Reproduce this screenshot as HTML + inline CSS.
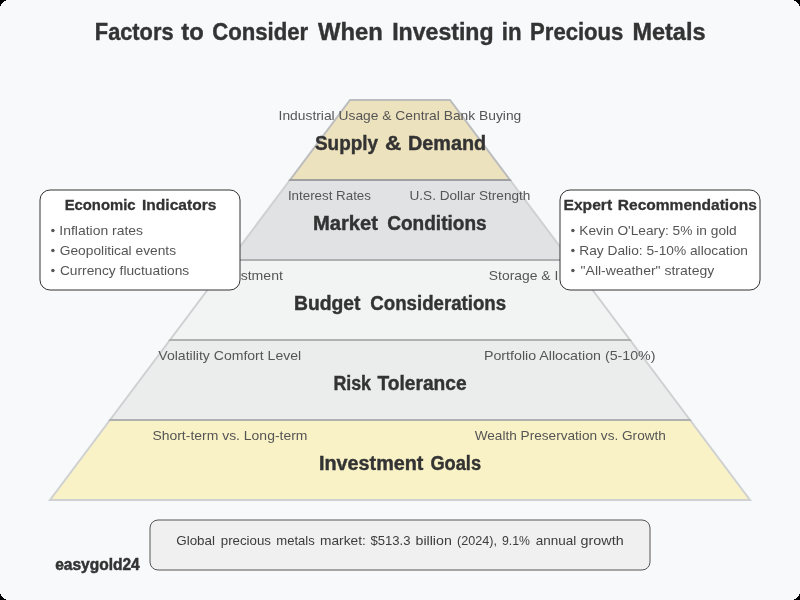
<!DOCTYPE html>
<html><head><meta charset="utf-8">
<style>
html,body{margin:0;padding:0;background:#000;}
svg{display:block;will-change:transform;}
text{font-family:"Liberation Sans",sans-serif;}
.t{font-weight:bold;font-size:23.4px;fill:#333;stroke:#333;stroke-width:0.4px;}
.m{font-weight:bold;font-size:19.5px;fill:#333;stroke:#333;stroke-width:0.4px;}
.s{font-size:13.5px;fill:#555;}
.bt{font-weight:bold;font-size:15.5px;fill:#333;stroke:#333;stroke-width:0.3px;}
.bi{font-size:13.5px;fill:#555;}
.g{font-size:13.5px;fill:#3c3c3c;}
.e{font-weight:bold;font-size:16px;fill:#333;stroke:#333;stroke-width:0.5px;}
</style></head><body>
<svg width="800" height="600" viewBox="0 0 800 600">
<rect x="0" y="0" width="800" height="600" fill="#f8f9fa"/>
<g fill="#000" shape-rendering="crispEdges"><path d="M0,0H6V1H4V2H3V3H2V4H1V6H0Z"/><path d="M0,0H6V1H4V2H3V3H2V4H1V6H0Z" transform="translate(800,0) scale(-1,1)"/><path d="M0,0H6V1H4V2H3V3H2V4H1V6H0Z" transform="translate(0,600) scale(1,-1)"/><path d="M0,0H6V1H4V2H3V3H2V4H1V6H0Z" transform="translate(800,600) scale(-1,-1)"/></g>
<polygon points="50,500 750,500 690,420 110,420" fill="#FFD700" stroke="#333" stroke-width="2" opacity="0.2"/>
<polygon points="110,420 690,420 630,340 170,340" fill="#bcc2b9" stroke="#333" stroke-width="2" opacity="0.2"/>
<polygon points="170,340 630,340 570,260 230,260" fill="#dfe5dc" stroke="#333" stroke-width="2" opacity="0.2"/>
<polygon points="230,260 570,260 510,180 290,180" fill="#8a8a8a" stroke="#333" stroke-width="2" opacity="0.2"/>
<polygon points="290,180 510,180 450,100 350,100" fill="#D4AF37" stroke="#333" stroke-width="2" opacity="0.3"/>
<text class="t" x="94.87" y="40" textLength="78.64" lengthAdjust="spacingAndGlyphs">Factors</text>
<text class="t" x="181.30" y="40" textLength="22.39" lengthAdjust="spacingAndGlyphs">to</text>
<text class="t" x="212.20" y="40" textLength="96.00" lengthAdjust="spacingAndGlyphs">Consider</text>
<text class="t" x="318.10" y="40" textLength="64.81" lengthAdjust="spacingAndGlyphs">When</text>
<text class="t" x="392.21" y="40" textLength="101.36" lengthAdjust="spacingAndGlyphs">Investing</text>
<text class="t" x="501.85" y="40" textLength="19.78" lengthAdjust="spacingAndGlyphs">in</text>
<text class="t" x="530.06" y="40" textLength="93.35" lengthAdjust="spacingAndGlyphs">Precious</text>
<text class="t" x="632.40" y="40" textLength="73.11" lengthAdjust="spacingAndGlyphs">Metals</text>
<text class="m" x="315.00" y="150" textLength="63.05" lengthAdjust="spacingAndGlyphs">Supply</text>
<text class="m" x="384.90" y="150" textLength="16.30" lengthAdjust="spacingAndGlyphs">&amp;</text>
<text class="m" x="407.98" y="150" textLength="78.14" lengthAdjust="spacingAndGlyphs">Demand</text>
<text class="m" x="312.96" y="230" textLength="65.11" lengthAdjust="spacingAndGlyphs">Market</text>
<text class="m" x="387.20" y="230" textLength="99.45" lengthAdjust="spacingAndGlyphs">Conditions</text>
<text class="m" x="294.01" y="310" textLength="66.49" lengthAdjust="spacingAndGlyphs">Budget</text>
<text class="m" x="370.30" y="310" textLength="135.85" lengthAdjust="spacingAndGlyphs">Considerations</text>
<text class="m" x="333.39" y="390" textLength="37.67" lengthAdjust="spacingAndGlyphs">Risk</text>
<text class="m" x="377.50" y="390" textLength="89.15" lengthAdjust="spacingAndGlyphs">Tolerance</text>
<text class="m" x="318.98" y="470" textLength="104.50" lengthAdjust="spacingAndGlyphs">Investment</text>
<text class="m" x="430.40" y="470" textLength="50.66" lengthAdjust="spacingAndGlyphs">Goals</text>
<text class="s" x="278.58" y="120" textLength="242.74" lengthAdjust="spacingAndGlyphs">Industrial Usage &amp; Central Bank Buying</text>
<text class="s" x="287.91" y="200" textLength="83.04" lengthAdjust="spacingAndGlyphs">Interest Rates</text>
<text class="s" x="409.49" y="200" textLength="120.92" lengthAdjust="spacingAndGlyphs">U.S. Dollar Strength</text>
<text class="s" x="177.26" y="280" textLength="105.68" lengthAdjust="spacingAndGlyphs">Initial Investment</text>
<text class="s" x="488.80" y="280" textLength="69.47" lengthAdjust="spacingAndGlyphs">Storage &amp; I</text>
<text class="s" x="158.30" y="360" textLength="142.90" lengthAdjust="spacingAndGlyphs">Volatility Comfort Level</text>
<text class="s" x="483.95" y="360" textLength="171.57" lengthAdjust="spacingAndGlyphs">Portfolio Allocation (5-10%)</text>
<text class="s" x="152.40" y="440" textLength="155.05" lengthAdjust="spacingAndGlyphs">Short-term vs. Long-term</text>
<text class="s" x="474.70" y="440" textLength="191.21" lengthAdjust="spacingAndGlyphs">Wealth Preservation vs. Growth</text>
<rect x="40" y="190" width="200" height="100" rx="10" ry="10" fill="#fff" stroke="#333" stroke-width="1"/>
<rect x="560" y="190" width="200" height="100" rx="10" ry="10" fill="#fff" stroke="#333" stroke-width="1"/>
<circle cx="52.9" cy="230.4" r="1.75" fill="#555"/><circle cx="52.9" cy="250.4" r="1.75" fill="#555"/><circle cx="52.9" cy="270.4" r="1.75" fill="#555"/><circle cx="572.9" cy="230.4" r="1.75" fill="#555"/><circle cx="572.9" cy="250.4" r="1.75" fill="#555"/><circle cx="572.9" cy="270.4" r="1.75" fill="#555"/>
<text class="bt" x="64.64" y="210" textLength="70.99" lengthAdjust="spacingAndGlyphs">Economic</text>
<text class="bt" x="142.00" y="210" textLength="74.43" lengthAdjust="spacingAndGlyphs">Indicators</text>
<text class="bi" x="59.32" y="235" textLength="83.72" lengthAdjust="spacingAndGlyphs">Inflation rates</text>
<text class="bi" x="59.75" y="255" textLength="116.30" lengthAdjust="spacingAndGlyphs">Geopolitical events</text>
<text class="bi" x="59.90" y="275" textLength="129.34" lengthAdjust="spacingAndGlyphs">Currency fluctuations</text>
<text class="bt" x="563.49" y="210" textLength="48.67" lengthAdjust="spacingAndGlyphs">Expert</text>
<text class="bt" x="617.80" y="210" textLength="139.02" lengthAdjust="spacingAndGlyphs">Recommendations</text>
<text class="bi" x="579.28" y="235" textLength="157.43" lengthAdjust="spacingAndGlyphs">Kevin O'Leary: 5% in gold</text>
<text class="bi" x="579.28" y="255" textLength="168.73" lengthAdjust="spacingAndGlyphs">Ray Dalio: 5-10% allocation</text>
<text class="bi" x="580.60" y="275" textLength="133.64" lengthAdjust="spacingAndGlyphs">"All-weather" strategy</text>
<rect x="150" y="520" width="500" height="50" rx="8" ry="8" fill="#f0f0f0" stroke="#555" stroke-width="1"/>
<text class="g" x="176.25" y="545" textLength="38.75" lengthAdjust="spacingAndGlyphs">Global</text>
<text class="g" x="220.75" y="545" textLength="50.25" lengthAdjust="spacingAndGlyphs">precious</text>
<text class="g" x="276.25" y="545" textLength="38.51" lengthAdjust="spacingAndGlyphs">metals</text>
<text class="g" x="320.00" y="545" textLength="45.76" lengthAdjust="spacingAndGlyphs">market:</text>
<text class="g" x="370.50" y="545" textLength="39.99" lengthAdjust="spacingAndGlyphs">$513.3</text>
<text class="g" x="415.50" y="545" textLength="36.28" lengthAdjust="spacingAndGlyphs">billion</text>
<text class="g" x="457.00" y="545" textLength="39.95" lengthAdjust="spacingAndGlyphs">(2024),</text>
<text class="g" x="502.00" y="545" textLength="28.00" lengthAdjust="spacingAndGlyphs">9.1%</text>
<text class="g" x="535.75" y="545" textLength="40.50" lengthAdjust="spacingAndGlyphs">annual</text>
<text class="g" x="580.60" y="545" textLength="43.04" lengthAdjust="spacingAndGlyphs">growth</text>
<text class="e" x="55.25" y="570" textLength="84.40" lengthAdjust="spacingAndGlyphs">easygold24</text>
</svg>
</body></html>
